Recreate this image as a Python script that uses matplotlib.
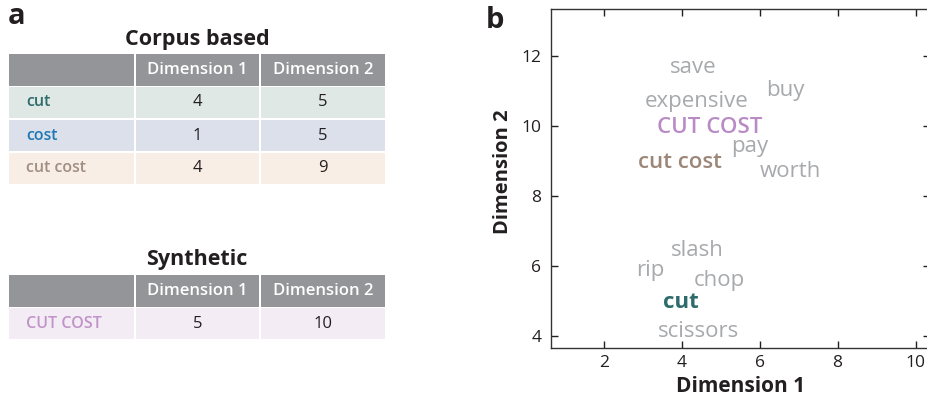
"""Corpus-based vs synthetic composition: tables (a) and 2-D word space (b)."""
import matplotlib
matplotlib.use("Agg")
import matplotlib.pyplot as plt
from matplotlib.patches import Rectangle

plt.rcParams["font.family"] = ["Open Sans", "DejaVu Sans"]

# table data
corpus_words = ["cut", "cost", "cut cost"]
corpus_dim1 = [4, 1, 4]
corpus_dim2 = [5, 5, 9]
synth_words = ["CUT COST"]
synth_dim1 = [5]
synth_dim2 = [10]
header = ["", "Dimension 1", "Dimension 2"]

# word map (label centres)
words = ["save", "buy", "expensive", "CUT COST", "pay", "cut cost", "worth",
         "slash", "rip", "chop", "cut", "scissors"]
word_x = [4.30, 6.65, 4.39, 4.73, 5.75, 3.96, 6.80, 4.39, 3.19, 4.97, 3.98, 4.43]
word_y = [11.66, 11.0, 10.7, 9.94, 9.40, 8.94, 8.70, 6.42, 5.87, 5.59, 4.94, 4.11]

GRAY = "#a7a9ac"
word_style = {
    "CUT COST": ("#b98ac6", "semibold"),
    "cut cost": ("#9c8678", "semibold"),
    "cut": ("#2e6b6c", "bold"),
}
row_colors = {"cut": "#dfe8e5", "cost": "#dbe0ea", "cut cost": "#f9eee5",
              "CUT COST": "#f4ecf4"}
name_colors = {"cut": "#2e6b6c", "cost": "#1f78b4", "cut cost": "#a08e83",
               "CUT COST": "#c093c9"}
HEAD = "#939598"
TXT = "#231f20"

fig = plt.figure(figsize=(9.27, 3.97), dpi=100)

# ---- panel a: tables drawn in pixel space ----
axt = fig.add_axes([0, 0, 1, 1])
axt.set_xlim(0, 927)
axt.set_ylim(397, 0)
axt.axis("off")

col_edges = [(9, 134), (136, 259), (261, 385)]


def draw_table(title, title_y, top, names, d1, d2):
    axt.text(197, title_y, title, ha="center", va="center", fontsize=15.5,
             fontweight="bold", color=TXT)
    head_h = 32
    for x0, x1 in col_edges:
        axt.add_patch(Rectangle((x0, top), x1 - x0, head_h, color=HEAD, lw=0))
    for (x0, x1), h in zip(col_edges[1:], header[1:]):
        axt.text((x0 + x1) / 2, top + head_h / 2, h, ha="center", va="center",
                 fontsize=12, fontweight="semibold", color="white")
    y = top + head_h + 1
    for name, a, b in zip(names, d1, d2):
        for x0, x1 in col_edges:
            axt.add_patch(Rectangle((x0, y), x1 - x0, 31, color=row_colors[name], lw=0))
        axt.text(26, y + 15.5, name, ha="left", va="center", fontsize=11.5,
                 fontweight="semibold", color=name_colors[name])
        for (x0, x1), v in zip(col_edges[1:], [a, b]):
            axt.text((x0 + x1) / 2, y + 15.5, str(v), ha="center", va="center",
                     fontsize=12, color=TXT)
        y += 33


draw_table("Corpus based", 39, 54, corpus_words, corpus_dim1, corpus_dim2)
draw_table("Synthetic", 259, 275, synth_words, synth_dim1, synth_dim2)

axt.text(8, 16, "a", ha="left", va="center", fontsize=21, fontweight="bold", color=TXT)
axt.text(486, 21, "b", ha="left", va="center", fontsize=21, fontweight="bold", color=TXT)

# ---- panel b: word space ----
ax = fig.add_axes([551 / 927, 49 / 397, 379 / 927, 339 / 397])
ax.set_xlim(0.65, 10.37)
ax.set_ylim(3.65, 13.33)
ax.set_xticks([2, 4, 6, 8, 10])
ax.set_yticks([4, 6, 8, 10, 12])
ax.tick_params(direction="in", length=5, width=1, top=True, right=True,
               labelsize=12.5, colors=TXT, pad=5)
ax.tick_params(axis="y", pad=7)
for sp in ax.spines.values():
    sp.set_color("#333333")
    sp.set_linewidth(1)

for w, x, y in zip(words, word_x, word_y):
    color, weight = word_style.get(w, (GRAY, "normal"))
    ax.text(x, y, w, ha="center", va="center", fontsize=16,
            color=color, fontweight=weight)

ax.set_xlabel("Dimension 1", fontsize=15, fontweight="bold", color=TXT, labelpad=4)
ax.set_ylabel("Dimension 2", fontsize=14.5, fontweight="bold", color=TXT)
ax.yaxis.set_label_coords(-0.099, 0.52)

fig.savefig("out.png", dpi=100)
